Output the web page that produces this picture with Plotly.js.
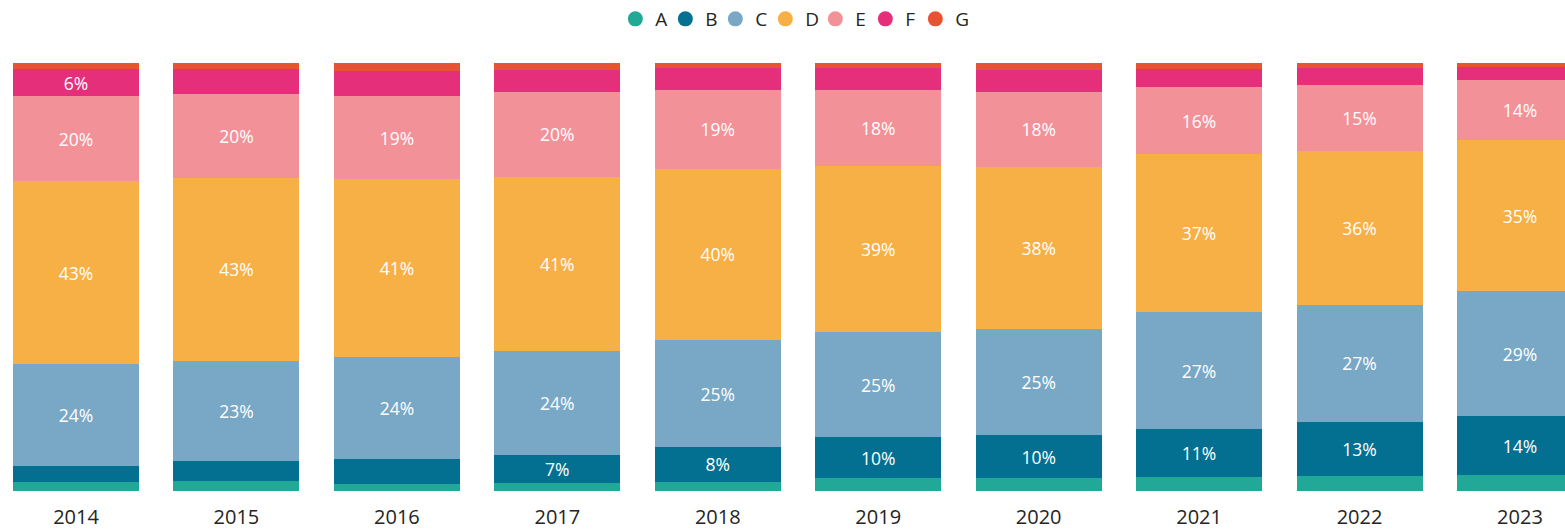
<!DOCTYPE html>
<html>
<head>
<meta charset="utf-8">
<script src="https://cdn.plot.ly/plotly-3.0.1.min.js"></script>
<style>
  html, body { margin: 0; padding: 0; background: #fff; }
  #chart { width: 1565px; height: 529px; }
</style>
</head>
<body>
<div id="chart"></div>
<script>
const years = ['2014','2015','2016','2017','2018','2019','2020','2021','2022','2023'];
const seriesNames = ['A','B','C','D','E','F','G'];
const seriesColors = ['#21A896','#047091','#78A8C6','#F7B045','#F39199','#E62F7B','#E65434'];

const valA = [2.0, 2.3, 1.6, 1.9, 2.2, 3.0, 3.0, 3.2, 3.5, 3.7];
const valB = [3.8, 4.7, 5.8, 6.5, 8.0, 9.6, 10.1, 11.3, 12.6, 13.8];
const valC = [23.8, 23.4, 24.0, 24.3, 25.1, 24.5, 24.8, 27.3, 27.4, 29.2];
const valD = [42.8, 42.8, 41.4, 40.7, 40.0, 38.8, 37.9, 36.9, 36.0, 35.3];
const valE = [19.9, 19.6, 19.4, 19.8, 18.5, 17.8, 17.5, 15.7, 15.4, 14.0];
const valF = [6.2, 5.8, 5.9, 5.2, 5.1, 5.1, 5.1, 4.3, 3.9, 3.1];
const valG = [1.5, 1.4, 1.9, 1.6, 1.1, 1.2, 1.6, 1.3, 1.2, 0.9];

// which segments carry a data label (1 = shown)
const showA = [0,0,0,0,0,0,0,0,0,0];
const showB = [0,0,0,1,1,1,1,1,1,1];
const showC = [1,1,1,1,1,1,1,1,1,1];
const showD = [1,1,1,1,1,1,1,1,1,1];
const showE = [1,1,1,1,1,1,1,1,1,1];
const showF = [1,0,0,0,0,0,0,0,0,0];
const showG = [0,0,0,0,0,0,0,0,0,0];

const allVals = [valA, valB, valC, valD, valE, valF, valG];
const allShow = [showA, showB, showC, showD, showE, showF, showG];

const FONT = "'Segoe UI', 'Open Sans', sans-serif";

const traces = [];
seriesNames.forEach((name, i) => {
  traces.push({
    type: 'bar',
    name: name,
    x: years,
    y: allVals[i],
    text: allVals[i].map((v, j) => allShow[i][j] ? Math.round(v) + '%' : ''),
    textposition: 'inside',
    insidetextanchor: 'middle',
    textangle: 0,
    constraintext: 'none',
    textfont: { family: FONT, size: 17.5, color: '#ffffff' },
    marker: { color: seriesColors[i], line: { width: 0 } },
    showlegend: false,
    hoverinfo: 'skip'
  });
});
// legend entries with round markers
seriesNames.forEach((name, i) => {
  traces.push({
    type: 'scatter',
    mode: 'markers',
    name: name,
    x: [null],
    y: [null],
    marker: { color: seriesColors[i], size: 15, symbol: 'circle' },
    showlegend: true,
    hoverinfo: 'skip'
  });
});
// invisible spacer entry so the last label is not clipped
traces.push({
  type: 'scatter', mode: 'markers', name: ' ',
  x: [null], y: [null],
  marker: { color: 'rgba(0,0,0,0)', size: 1 },
  showlegend: true, hoverinfo: 'skip'
});

const layout = {
  width: 1565,
  height: 529,
  margin: { l: 0, r: 0, t: 63, b: 38, pad: 0 },
  paper_bgcolor: '#ffffff',
  plot_bgcolor: '#ffffff',
  barmode: 'stack',
  bargap: 0.215,
  font: { family: FONT, color: '#252423' },
  xaxis: {
    type: 'category',
    range: [-0.4737, 9.2807],
    showgrid: false,
    zeroline: false,
    showline: false,
    ticks: '',
    ticklabelstandoff: 12,
    tickfont: { family: FONT, size: 20, color: '#252423' },
    fixedrange: true
  },
  yaxis: {
    range: [0, 100],
    visible: false,
    showgrid: false,
    zeroline: false,
    fixedrange: true
  },
  showlegend: true,
  legend: {
    orientation: 'h',
    x: 0.3932,
    xanchor: 'left',
    y: 1.1028,
    yanchor: 'middle',
    traceorder: 'normal',
    itemwidth: 30,
    entrywidth: 5,
    entrywidthmode: 'pixels',
    font: { family: FONT, size: 19, color: '#252423' },
    bgcolor: 'rgba(0,0,0,0)'
  }
};

Plotly.newPlot('chart', traces, layout, { displayModeBar: false, staticPlot: true });
</script>
</body>
</html>
